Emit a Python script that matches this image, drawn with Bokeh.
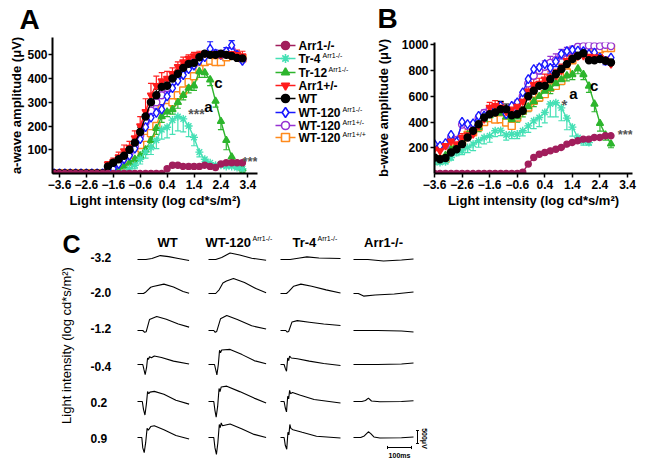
from bokeh.plotting import figure
from bokeh.models import Range1d, FixedTicker, Label, Whisker, TeeHead, ColumnDataSource
from bokeh.layouts import column, row
from bokeh.embed import file_html
from bokeh.resources import INLINE

FONT = "Liberation Sans"

# ---------------- data: panel A (a-wave) ----------------
intensity_a = [-3.8, -3.6, -3.4, -3.2, -3.0, -2.8, -2.6, -2.4, -2.2, -2.0,
               -1.8, -1.6, -1.4, -1.2, -1.0, -0.8, -0.6, -0.4, -0.2, 0.0,
               0.2, 0.4, 0.6, 0.8, 1.0, 1.2, 1.4, 1.6, 1.8, 2.0,
               2.2, 2.4, 2.6, 2.8, 3.0, 3.2]
a_arr1_ko = [0, 0, 0, 0, 0, 0, 0, 0, 0, 0, 0, 0, 0, 0, 0, 0, 0, 0, 0, 0,
             0, 20, 35, 35, 30, 30, 30, 30, 35, 30, 25, 40, 45, 45, 45, 45]
a_tr4 = [0, 0, 0, 0, 0, 0, 0, 0, 0, 0, 0, 0, 0, 5, 20, 35, 60, 90, 110, 140,
         185, 195, 225, 240, 230, 200, 152, 90, 60, 45, 35, 35, 30, 30, 25, 20]
a_tr12 = [0, 0, 0, 0, 0, 0, 0, 0, 0, 0, 0, 5, 15, 30, 45, 60, 75, 100, 140, 190,
          240, 260, 270, 300, 330, 360, 370, 430, 425, 395, 305, 220, 140, 70, 40, 20]
a_arr1_het = [0, 0, 0, 0, 0, 0, 0, 0, 0, 0, 40, 50, 70, 95, 110, 150, 200, 260, 330, 370,
              390, 400, 420, 450, 470, 485, 495, 500, 505, 505, 500, 500, 505, 505, 500, 495]
a_wt = [0, 0, 0, 0, 0, 0, 0, 0, 0, 0, 30, 45, 60, 75, 100, 130, 175, 240, 300, 330,
        365, 370, 400, 420, 445, 462, 466, 490, 505, 500, 500, 505, 500, 495, 487, 485]
a_wt120_ko = [0, 0, 0, 0, 0, 0, 0, 0, 0, 0, 10, 20, 40, 60, 75, 105, 145, 195, 235, 255,
              270, 325, 360, 390, 415, 440, 455, 475, 490, 525, 505, 500, 515, 540, 500, 475]
a_wt120_het = [0, 0, 0, 0, 0, 0, 0, 0, 0, 0, 15, 30, 50, 70, 85, 115, 160, 215, 265, 300,
               330, 360, 385, 410, 440, 460, 470, 485, 500, 510, 505, 500, 510, 520, 500, 480]
a_wt120_wt = [0, 0, 0, 0, 0, 0, 0, 0, 0, 0, 0, 10, 25, 35, 50, 80, 120, 150, 170, 200,
              270, 280, 300, 330, 350, 385, 410, 440, 470, 475, 470, 470, 490, 500, 495, 485]
# error bars (SEM) of panel A
a_arr1_het_err = [0, 0, 0, 0, 0, 0, 0, 0, 0, 0, 10, 15, 20, 25, 25, 30, 40, 55, 50, 40,
                  35, 30, 25, 20, 20, 15, 15, 15, 10, 10, 15, 15, 15, 20, 20, 20]
a_wt_err = [0, 0, 0, 0, 0, 0, 0, 0, 0, 0, 10, 10, 10, 10, 15, 15, 20, 25, 30, 25,
            20, 20, 15, 15, 15, 10, 10, 10, 10, 10, 10, 10, 10, 10, 10, 10]
a_wt120_ko_err = [0, 0, 0, 0, 0, 0, 0, 0, 0, 0, 5, 5, 10, 10, 10, 15, 15, 20, 20, 20,
                  20, 20, 15, 15, 15, 15, 15, 15, 15, 30, 15, 15, 15, 20, 15, 15]
a_tr4_err = [0, 0, 0, 0, 0, 0, 0, 0, 0, 0, 0, 0, 0, 5, 10, 15, 20, 25, 30, 35,
             40, 45, 60, 60, 55, 45, 35, 20, 10, 5, 5, 5, 5, 5, 5, 5]
a_tr12_err = [0, 0, 0, 0, 0, 0, 0, 0, 0, 0, 0, 5, 5, 10, 10, 15, 15, 20, 25, 25,
              25, 20, 20, 25, 20, 20, 20, 25, 20, 25, 25, 35, 40, 30, 20, 15]

# ---------------- data: panel B (b-wave) ----------------
intensity_b = [-3.6, -3.4, -3.2, -3.0, -2.8, -2.6, -2.4, -2.2, -2.0, -1.8,
               -1.6, -1.4, -1.2, -1.0, -0.8, -0.6, -0.4, -0.2, 0.0, 0.2,
               0.4, 0.6, 0.8, 1.0, 1.2, 1.4, 1.6, 1.8, 2.0, 2.2,
               2.4, 2.6, 2.8]
b_arr1_ko = [0, 0, 0, 0, 0, 0, 0, 0, 0, 0, 0, 0, 0, 0, 0, 0, 10, 73, 124, 150,
             163, 176, 189, 202, 228, 241, 255, 267, 267, 280, 280, 293, 293]
b_tr4 = [86, 86, 91, 124, 163, 176, 202, 228, 254, 280, 293, 332, 335, 300, 306, 306, 332, 370, 409, 435,
         474, 540, 550, 510, 430, 360, 280, 250, 240]
b_tr12 = [120, 120, 140, 190, 220, 250, 300, 330, 360, 420, 450, 470, 470, 440, 420, 440, 480, 520, 560, 600,
          640, 660, 700, 730, 760, 770, 815, 770, 680, 540, 390, 300, 230]
b_arr1_het = [189, 176, 215, 250, 230, 280, 300, 306, 370, 422, 513, 526, 515, 480, 500, 520, 560, 640, 690, 700,
              733, 750, 760, 800, 876, 900, 910, 915, 910, 905, 900, 880, 850]
b_wt = [124, 111, 120, 163, 189, 228, 280, 332, 383, 435, 461, 474, 500, 500, 453, 461, 487, 600, 643, 681,
        681, 733, 772, 811, 850, 890, 915, 935, 880, 880, 889, 876, 863]
b_wt120_ko = [228, 215, 236, 300, 246, 401, 383, 390, 448, 450, 470, 500, 526, 461, 526, 552, 630, 733, 811, 824,
              850, 820, 870, 930, 950, 960, 955, 950, 930, 940, 900, 875, 900]
b_wt120_het = [210, 200, 220, 280, 260, 380, 370, 380, 430, 470, 500, 510, 510, 480, 500, 540, 600, 700, 760, 800,
               830, 860, 880, 920, 940, 960, 985, 990, 995, 990, 990, 1000, 990]
b_wt120_wt = [100, 110, 115, 180, 200, 250, 300, 320, 360, 400, 430, 420, 422, 396, 370, 435, 487, 513, 565, 591,
              617, 668, 681, 720, 785, 880, 940, 960, 970, 970, 965, 975, 975]
b_arr1_het_err = [20, 20, 20, 25, 25, 30, 40, 40, 40, 45, 40, 40, 35, 35, 35, 40, 50, 50, 45, 40,
                  40, 45, 50, 50, 40, 30, 25, 25, 25, 25, 25, 25, 25]
b_wt_err = [15, 15, 15, 15, 20, 20, 25, 25, 30, 30, 35, 40, 60, 40, 30, 30, 30, 35, 35, 30,
            30, 30, 30, 30, 25, 25, 25, 25, 25, 25, 25, 25, 25]
b_wt120_ko_err = [15, 15, 15, 20, 20, 25, 30, 30, 35, 40, 45, 50, 60, 70, 50, 40, 40, 45, 50, 50,
                  40, 40, 40, 40, 35, 30, 30, 30, 30, 30, 30, 30, 30]
b_wt120_het_err = [10, 10, 10, 15, 15, 20, 20, 20, 25, 25, 25, 25, 25, 25, 25, 30, 30, 35, 40, 45,
                   45, 50, 50, 45, 40, 30, 20, 15, 15, 15, 15, 15, 15]
b_tr4_err = [15, 15, 15, 20, 25, 30, 40, 50, 50, 50, 50, 45, 40, 40, 35, 35, 40, 50, 60, 70,
             80, 100, 110, 100, 90, 70, 40, 30, 20]
b_tr12_err = [20, 20, 20, 25, 25, 30, 30, 30, 35, 35, 35, 35, 35, 35, 35, 40, 40, 40, 40, 40,
              40, 40, 40, 40, 40, 40, 40, 40, 50, 60, 60, 40, 30]

ticks_x = [-3.6, -2.6, -1.6, -0.6, 0.4, 1.4, 2.4, 3.4]
ticks_a = [100, 200, 300, 400, 500]
ticks_b = [200, 400, 600, 800, 1000]

# ---------------- data: panel C (ERG traces, ms / uV) ----------------
c_columns = ["WT", "WT-120", "Tr-4", "Arr1-/-"]
c_column_sups = ["", "Arr1-/-", "Arr1-/-", ""]
c_rows = ["-3.2", "-2.0", "-1.2", "-0.4", "0.2", "0.9"]

wt_t = [[0, 35, 60, 95, 130, 170, 215],
        [0, 25, 35, 55, 65, 110, 150, 190, 215],
        [0, 22, 30, 36, 50, 80, 120, 170, 215],
        [0, 22, 27, 32, 38, 42, 46, 50, 58, 70, 100, 150, 215],
        [0, 20, 25, 31, 37, 42, 47, 52, 70, 110, 160, 215],
        [0, 18, 22, 28, 34, 40, 45, 55, 70, 110, 160, 215]]
wt_v = [[0, 0, 40, 150, 110, 40, -40],
        [0, 0, 60, 240, 270, 360, 250, 80, 10],
        [0, 0, -70, -50, 420, 540, 430, 250, 130],
        [0, 0, -200, -390, -100, 250, 200, 300, 260, 330, 270, 130, 20],
        [0, 0, -300, -520, -100, 380, 300, 360, 390, 280, 50, -100],
        [0, 0, -400, -580, -200, 350, 280, 420, 450, 300, 80, -60]]
wt120_t = [[0, 30, 55, 90, 130, 180, 240],
           [0, 30, 45, 60, 75, 104, 150, 200, 240],
           [0, 22, 28, 34, 50, 76, 120, 180, 240],
           [0, 25, 30, 35, 41, 46, 50, 55, 90, 140, 190, 240],
           [0, 22, 27, 32, 38, 44, 48, 53, 76, 130, 190, 240],
           [0, 22, 27, 33, 39, 45, 49, 53, 58, 90, 140, 190, 240]]
wt120_v = [[0, 0, 80, 250, 170, 50, -30],
           [0, 0, 150, 400, 480, 580, 420, 180, 30],
           [0, 0, -70, -40, 450, 580, 420, 180, 60],
           [0, 0, -200, -400, 0, 550, 450, 560, 580, 380, 150, 30],
           [0, 0, -350, -600, -200, 500, 380, 560, 590, 380, 130, -60],
           [0, 0, -400, -650, -200, 500, 380, 560, 450, 520, 330, 120, 0]]
tr4_t = [[0, 40, 80, 110, 160, 250],
         [0, 25, 35, 55, 85, 130, 190, 250],
         [0, 22, 28, 34, 48, 70, 120, 180, 250],
         [0, 15, 20, 25, 30, 34, 38, 45, 70, 120, 180, 250],
         [0, 15, 20, 25, 30, 34, 38, 42, 50, 80, 140, 250],
         [0, 15, 20, 26, 31, 35, 39, 43, 52, 90, 150, 250]]
tr4_v = [[0, 0, 60, 100, 60, 40],
         [0, 0, 80, 280, 360, 280, 140, 20],
         [0, 0, -60, -40, 330, 380, 320, 250, 190],
         [0, 0, -150, -260, 250, 150, 320, 250, 220, 130, 40, -40],
         [0, 0, -250, -400, 200, 100, 430, 300, 350, 250, 80, -60],
         [0, 0, -300, -450, 200, 100, 500, 350, 300, 200, 50, -20]]
ko_t = [[0, 60, 125, 200, 250],
        [0, 20, 42, 90, 170, 250],
        [0, 100, 200, 250],
        [0, 100, 200, 250],
        [0, 35, 50, 62, 75, 110, 200, 250],
        [0, 30, 45, 62, 72, 85, 110, 200, 250]]
ko_v = [[0, 0, -60, -20, 20],
        [0, 0, -100, -60, -20, 60],
        [0, 0, -20, -60],
        [0, 0, 20, 60],
        [0, 0, 40, 130, 20, -10, 0, 30],
        [0, 0, 60, 220, 150, 20, -20, -10, 20]]
scale_uv = 500
scale_ms = 100

# ---------------- styles ----------------
C_KO = "#A11E5C"
C_TR4 = "#45E0B5"
C_TR12 = "#2DB52D"
C_HET = "#FF1C1C"
C_WT = "#000000"
C_W120KO = "#1818FF"
C_W120HET = "#9632D2"
C_W120WT = "#FF8A1C"

legend_labels = ["Arr1-/-", "Tr-4", "Tr-12", "Arr1+/-", "WT", "WT-120", "WT-120", "WT-120"]
legend_sups = ["", "Arr1-/-", "Arr1-/-", "", "", "Arr1-/-", "Arr1+/-", "Arr1+/+"]
legend_colors = [C_KO, C_TR4, C_TR12, C_HET, C_WT, C_W120KO, C_W120HET, C_W120WT]
legend_markers = ["circle", "asterisk", "triangle", "inverted_triangle", "circle", "diamond", "circle", "square"]
legend_fill = [C_KO, C_TR4, C_TR12, C_HET, C_WT, "white", "white", "white"]
legend_sizes = [8, 9, 8, 8, 8, 10, 8, 8]


def style(p, xticks, yticks):
    p.xaxis.ticker = FixedTicker(ticks=xticks)
    p.yaxis.ticker = FixedTicker(ticks=yticks)
    for ax in (p.xaxis[0], p.yaxis[0]):
        ax.axis_line_width = 2
        ax.axis_line_color = "black"
        ax.major_tick_line_width = 1.5
        ax.major_tick_line_color = "black"
        ax.major_tick_in = 0
        ax.major_tick_out = 4
        ax.minor_tick_line_color = None
        ax.major_label_text_font = FONT
        ax.major_label_text_font_style = "bold"
        ax.major_label_text_font_size = "12px"
        ax.major_label_text_color = "black"
        ax.axis_label_text_font = FONT
        ax.axis_label_text_font_style = "bold"
        ax.axis_label_text_font_size = "13px"
        ax.axis_label_text_color = "black"
        ax.axis_label_standoff = 1
        ax.major_label_standoff = 2
    p.xgrid.visible = False
    p.ygrid.visible = False
    p.outline_line_color = None
    p.background_fill_color = "white"
    p.border_fill_color = "white"


def series(p, xs, ys, color, marker, fill, size, err=None, down=False):
    xs = xs[:len(ys)]
    p.line(xs, ys, line_color=color, line_width=1.4)
    if err is not None:
        bx, lo, hi = [], [], []
        for x, y, e in zip(xs, ys, err):
            if e > 0:
                bx.append(x)
                lo.append(y - e if down else y)
                hi.append(y if down else y + e)
        src = ColumnDataSource(dict(x=bx, lo=lo, hi=hi))
        head = TeeHead(size=6, line_color=color, line_width=1.2)
        w = Whisker(source=src, base="x", lower="lo", upper="hi", line_color=color, line_width=1.2,
                    upper_head=None if down else head, lower_head=head if down else None)
        p.add_layout(w)
    p.scatter(xs, ys, marker=marker, size=size, fill_color=fill, line_color=color, line_width=1.4)


def lab(p, x, y, text, size, bold=True, align="left", baseline="middle", color="black", angle=0.0):
    p.add_layout(Label(x=x, y=y, text=text, text_font=FONT, text_font_size=f"{size}px",
                       text_font_style="bold" if bold else "normal", text_align=align,
                       text_baseline=baseline, text_color=color, angle=angle))


def bare_fig(w, h, xr, yr):
    p = figure(width=w, height=h, x_range=Range1d(*xr), y_range=Range1d(*yr),
               output_backend="svg", toolbar_location=None, min_border=0,
               x_axis_location=None, y_axis_location=None, frame_align=False)
    p.xgrid.visible = False
    p.ygrid.visible = False
    p.outline_line_color = None
    return p


# page layout (page pixels, the page has no margin)
PAGE_W = 647
TOP_H = 37     # strip holding the panel letters
ROW_H = 178    # row holding panels A, legend, B
C_H = 248      # panel C
A_W, L_W = 265, 107
B_W = PAGE_W - A_W - L_W

# ---------------- strip with panel letters ----------------
pT = bare_fig(PAGE_W, TOP_H, (0, PAGE_W), (TOP_H, 0))
lab(pT, 19, 19, "A", 28)
lab(pT, 377, 18, "B", 28)

# ---------------- panel A ----------------
A_XR = (-3.86, 3.76)
A_YR = (0, 573)
pA = figure(width=A_W, height=ROW_H, x_range=Range1d(*A_XR), y_range=Range1d(*A_YR),
            output_backend="svg", toolbar_location=None, frame_align=False,
            min_border_left=52, min_border_right=8, min_border_top=0, min_border_bottom=42)
style(pA, ticks_x, ticks_a)
pA.yaxis.axis_label_standoff = 0
pA.yaxis.major_label_standoff = 1
pA.xaxis.axis_label = "Light intensity (log cd*s/m²)"
pA.yaxis.axis_label = "a-wave amplitude (μV)"

series(pA, intensity_a, a_wt120_wt, C_W120WT, "square", "white", 7)
series(pA, intensity_a, a_wt120_het, C_W120HET, "circle", "white", 7)
series(pA, intensity_a, a_tr12, C_TR12, "triangle", C_TR12, 7, a_tr12_err, down=True)
series(pA, intensity_a, a_tr4, C_TR4, "asterisk", C_TR4, 8, a_tr4_err, down=True)
series(pA, intensity_a, a_wt120_ko, C_W120KO, "diamond", "white", 9, a_wt120_ko_err)
series(pA, intensity_a, a_arr1_het, C_HET, "inverted_triangle", C_HET, 7, a_arr1_het_err)
series(pA, intensity_a, a_wt, C_WT, "circle", C_WT, 7, a_wt_err)
series(pA, intensity_a, a_arr1_ko, C_KO, "circle", C_KO, 6)


def a_x(px):  # page pixel -> data, panel A (frame: x 52..257, y 37..173)
    return A_XR[0] + (px - 52) * (A_XR[1] - A_XR[0]) / 205.0


def a_y(py):
    return (173 - py) * A_YR[1] / 136.0


lab(pA, a_x(196), a_y(113), "***", 14, align="center", color="#555555")
lab(pA, a_x(208), a_y(106), "a", 15, align="center")
lab(pA, a_x(218), a_y(82), "c", 15, align="center")
lab(pA, a_x(242), a_y(161), "***", 13, color="#555555")

# ---------------- legend ----------------
pL = bare_fig(L_W, ROW_H, (0, L_W), (TOP_H + ROW_H, TOP_H))
leg_y = [45, 58, 72, 85, 98, 112, 125, 137]
sup_x = [0, 57, 63, 0, 0, 77, 77, 77]
for i in range(len(legend_labels)):
    yy = leg_y[i]
    pL.line([10, 30], [yy, yy], line_color=legend_colors[i], line_width=1.6)
    pL.scatter([20], [yy], marker=legend_markers[i], size=legend_sizes[i], fill_color=legend_fill[i],
               line_color=legend_colors[i], line_width=1.6)
    lab(pL, 33, yy, legend_labels[i], 12)
    if legend_sups[i]:
        lab(pL, sup_x[i], yy - 3, legend_sups[i], 7, bold=False)

# ---------------- panel B ----------------
B_XR = (-3.6, 3.58)
B_YR = (0, 1018)
pB = figure(width=B_W, height=ROW_H, x_range=Range1d(*B_XR), y_range=Range1d(*B_YR),
            output_backend="svg", toolbar_location=None, frame_align=False,
            min_border_left=59, min_border_right=15, min_border_top=5, min_border_bottom=42)
style(pB, ticks_x, ticks_b)
pB.yaxis.axis_label_standoff = 8
pB.xaxis.axis_label = "Light intensity (log cd*s/m²)"
pB.yaxis.axis_label = "b-wave amplitude (μV)"

series(pB, intensity_b, b_wt120_wt, C_W120WT, "square", "white", 7)
series(pB, intensity_b, b_tr12, C_TR12, "triangle", C_TR12, 7, b_tr12_err, down=True)
series(pB, intensity_b, b_tr4, C_TR4, "asterisk", C_TR4, 8, b_tr4_err, down=True)
series(pB, intensity_b, b_wt120_het, C_W120HET, "circle", "white", 7, b_wt120_het_err)
series(pB, intensity_b, b_wt120_ko, C_W120KO, "diamond", "white", 9, b_wt120_ko_err, down=True)
series(pB, intensity_b, b_arr1_het, C_HET, "inverted_triangle", C_HET, 7, b_arr1_het_err)
series(pB, intensity_b, b_wt, C_WT, "circle", C_WT, 7, b_wt_err)
series(pB, intensity_b, b_arr1_ko, C_KO, "circle", C_KO, 6)


def b_x(px):  # frame: x 431..632, y 42..173
    return B_XR[0] + (px - 431) * (B_XR[1] - B_XR[0]) / 201.0


def b_y(py):
    return (173 - py) * B_YR[1] / 131.0


lab(pB, b_x(563), b_y(104), "*", 15, align="center", color="#555555")
lab(pB, b_x(572), b_y(93), "a", 15, align="center")
lab(pB, b_x(593), b_y(85), "c", 15, align="center")
lab(pB, b_x(617), b_y(134), "***", 13, color="#555555")

# ---------------- panel C ----------------
C_TOP = TOP_H + ROW_H
MS_PER_PX = 100 / 24.0
UV_PER_PX = 500 / 13.0
pC = bare_fig(PAGE_W, C_H, (0, PAGE_W * MS_PER_PX), (0, C_H * UV_PER_PX))


def cx(px):
    return px * MS_PER_PX


def cy(py):
    return (C_TOP + C_H - py) * UV_PER_PX


col_left = [137, 208, 280, 353]
row_base = [259, 293, 330, 364, 401, 437]
for ci, (tt, vv) in enumerate([(wt_t, wt_v), (wt120_t, wt120_v), (tr4_t, tr4_v), (ko_t, ko_v)]):
    for ri in range(len(c_rows)):
        xs = [cx(col_left[ci]) + t for t in tt[ri]]
        ys = [cy(row_base[ri]) + v for v in vv[ri]]
        pC.line(xs, ys, line_color="black", line_width=1.1)

lab(pC, cx(62), cy(243), "C", 25)
head_x = [167, 205, 292, 383]
head_align = ["center", "left", "left", "center"]
head_sup_x = [0, 252, 317, 0]
for ci in range(4):
    lab(pC, cx(head_x[ci]), cy(242), c_columns[ci], 13, align=head_align[ci])
    if c_column_sups[ci]:
        lab(pC, cx(head_sup_x[ci]), cy(238), c_column_sups[ci], 7, bold=False)
row_lab_y = [257, 292, 328, 366, 402, 438]
for ri in range(len(c_rows)):
    lab(pC, cx(90), cy(row_lab_y[ri]), c_rows[ri], 12)
lab(pC, cx(66), cy(345), "Light intensity (log cd*s/m²)", 13, bold=False, align="center", angle=1.5708)

# scale bars
vx = cx(417)
vy0 = cy(443)
pC.line([vx, vx], [vy0, vy0 + scale_uv], line_color="black", line_width=1)
pC.line([vx - 6, vx + 6], [vy0, vy0], line_color="black", line_width=1)
pC.line([vx - 6, vx + 6], [vy0 + scale_uv, vy0 + scale_uv], line_color="black", line_width=1)
lab(pC, cx(424), cy(438), "500μV", 7, align="center", angle=-1.5708)
hx0 = cx(387)
hy = cy(447)
pC.line([hx0, hx0 + scale_ms], [hy, hy], line_color="black", line_width=1)
pC.line([hx0, hx0], [hy - 60, hy + 60], line_color="black", line_width=1)
pC.line([hx0 + scale_ms, hx0 + scale_ms], [hy - 60, hy + 60], line_color="black", line_width=1)
lab(pC, cx(399), cy(455), "100ms", 7, align="center")

layout = column(pT, row(pA, pL, pB), pC)
open("out.html", "w").write(file_html(layout, INLINE))
